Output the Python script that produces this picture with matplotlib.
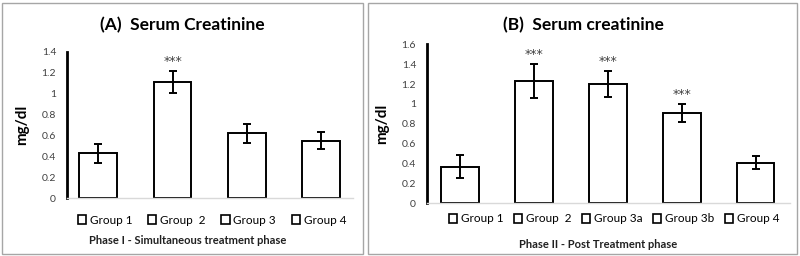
import matplotlib
matplotlib.use('Agg')
import matplotlib.pyplot as plt
from matplotlib.patches import Patch, Rectangle

plt.rcParams['font.family'] = ['Lato', 'DejaVu Sans']

# panel A - phase I
groups_a = ['Group 1', 'Group  2', 'Group 3', 'Group 4']
means_a = [0.43, 1.11, 0.62, 0.55]
errs_a = [0.09, 0.105, 0.093, 0.08]
stars_a = ['', '***', '', '']

# panel B - phase II
groups_b = ['Group 1', 'Group  2', 'Group 3a', 'Group 3b', 'Group 4']
means_b = [0.37, 1.23, 1.20, 0.91, 0.41]
errs_b = [0.12, 0.175, 0.13, 0.09, 0.065]
stars_b = ['', '***', '***', '***', '']

W, H = 800, 256


def draw_panel(fig, ax, groups, means, errs, stars, ymax, xpad, colspace, leg_xy):
    x = list(range(len(groups)))
    ax.bar(x, means, width=0.51, color='white', edgecolor='black', linewidth=1.4, zorder=2)
    ax.errorbar(x, means, yerr=errs, fmt='none', ecolor='black', elinewidth=1.4,
                capsize=3, capthick=1.4, zorder=3)
    for xi, m, e, s in zip(x, means, errs, stars):
        if s:
            ax.annotate(s, (xi, m + e), xytext=(0, 2), textcoords='offset points',
                        ha='center', va='bottom', fontsize=9, color='#404040',
                        family='DejaVu Sans')
    ax.set_ylim(0, ymax)
    ax.set_xlim(xpad[0], len(groups) - 1 + xpad[1])
    ax.set_yticks([i * 0.2 for i in range(int(round(ymax / 0.2)) + 1)])
    ax.set_yticklabels([f'{v:g}' for v in ax.get_yticks()])
    ax.set_xticks([])
    ax.tick_params(axis='y', length=0, labelsize=7.5, colors='#404040', pad=8)
    for sp in ['top', 'right']:
        ax.spines[sp].set_visible(False)
    ax.spines['left'].set_linewidth(2)
    ax.spines['bottom'].set_color('#d9d9d9')
    ax.spines['bottom'].set_linewidth(1)
    ax.set_ylabel('mg/dl', fontsize=11, fontweight='bold', labelpad=9)
    handles = [Patch(facecolor='white', edgecolor='black', linewidth=1.2) for _ in groups]
    ax.legend(handles, groups, loc='center', bbox_to_anchor=(leg_xy[0] / W, 1 - leg_xy[1] / H),
              bbox_transform=fig.transFigure, ncol=len(groups),
              frameon=False, fontsize=8.5, handlelength=0.7, handleheight=0.7,
              handletextpad=0.3, columnspacing=colspace)


fig = plt.figure(figsize=(8, 2.56), dpi=100)
fig.patches.append(Rectangle((2 / W, 2 / H), 361 / W, 251 / H, transform=fig.transFigure,
                             fill=False, edgecolor='#a6a6a6', linewidth=1))
fig.patches.append(Rectangle((368 / W, 2 / H), 429 / W, 251 / H, transform=fig.transFigure,
                             fill=False, edgecolor='#a6a6a6', linewidth=1))

ax_a = fig.add_axes([0.084, 0.225, 0.357, 0.573])
draw_panel(fig, ax_a, groups_a, means_a, errs_a, stars_a, 1.4, (-0.42, 0.43), 1.35, (212, 220))

ax_b = fig.add_axes([0.534, 0.206, 0.454, 0.621])
draw_panel(fig, ax_b, groups_b, means_b, errs_b, stars_b, 1.6, (-0.44, 0.47), 0.9, (614, 219))

fig.text(182 / W, 1 - 25 / H, '(A)  Serum Creatinine', ha='center', va='center',
         fontsize=12.5, fontweight='bold')
fig.text(583 / W, 1 - 25 / H, '(B)  Serum creatinine', ha='center', va='center',
         fontsize=12.5, fontweight='bold')
fig.text(188 / W, 1 - 240 / H, 'Phase I - Simultaneous treatment phase', ha='center',
         va='center', fontsize=8, fontweight='bold', color='#202020')
fig.text(598 / W, 1 - 244 / H, 'Phase II - Post Treatment phase', ha='center',
         va='center', fontsize=8, fontweight='bold', color='#202020')

fig.savefig('out.png', dpi=100)
